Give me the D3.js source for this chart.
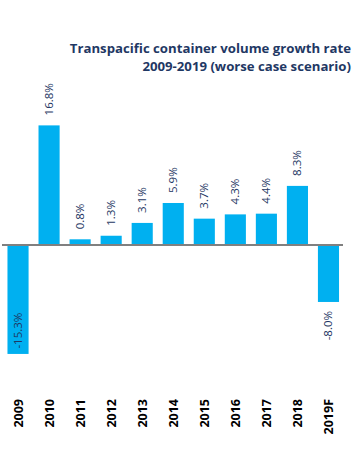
<!DOCTYPE html>
<html>
<head>
<meta charset="utf-8">
<script src="https://cdn.jsdelivr.net/npm/d3@7"></script>
<style>
  body { margin: 0; background: #fff; }
  svg { display: block; }
</style>
</head>
<body>
<script>
var years = ['2009', '2010', '2011', '2012', '2013', '2014', '2015', '2016', '2017', '2018', '2019F'];
var growth = [-15.3, 16.8, 0.8, 1.3, 3.1, 5.9, 3.7, 4.3, 4.4, 8.3, -8.0];
var titleLines = ['Transpacific container volume growth rate', '2009-2019 (worse case scenario)'];

var width = 358, height = 451;
var zeroY = 245, pxPer = 7.12;

var data = years.map(function (y, i) { return { year: y, v: growth[i] }; });

var svg = d3.select('body').append('svg')
    .attr('width', width)
    .attr('height', height);

var x = d3.scaleBand()
    .domain(years)
    .range([2.5, 344])
    .paddingInner(0.32)
    .paddingOuter(0.16);

var y = d3.scaleLinear()
    .domain([-16, 18])
    .range([zeroY + 16 * pxPer, zeroY - 18 * pxPer]);

// title
svg.append('g')
    .selectAll('text')
    .data(titleLines)
    .enter().append('text')
    .attr('x', 351)
    .attr('y', function (d, i) { return 53 + i * 18; })
    .attr('text-anchor', 'end')
    .attr('font-family', 'Open Sans, sans-serif')
    .attr('font-weight', 'bold')
    .attr('font-size', '13.2px')
    .attr('fill', '#1f3864')
    .text(function (d) { return d; });

// bars
svg.append('g')
    .selectAll('rect')
    .data(data)
    .enter().append('rect')
    .attr('x', function (d) { return x(d.year); })
    .attr('width', x.bandwidth())
    .attr('y', function (d) { return y(Math.max(0, d.v)); })
    .attr('height', function (d) { return Math.abs(y(d.v) - y(0)); })
    .attr('fill', '#00b0f0');

// zero line
svg.append('line')
    .attr('x1', 2).attr('x2', 343)
    .attr('y1', y(0)).attr('y2', y(0))
    .attr('stroke', '#808080')
    .attr('stroke-width', 1.8);

// value labels
svg.append('g')
    .selectAll('text')
    .data(data)
    .enter().append('text')
    .attr('transform', function (d) {
        var cx = x(d.year) + x.bandwidth() / 2 + 4;
        var ly = d.v >= 0 ? y(d.v) - 10 : Math.min(y(d.v) + 9, y(-9.5));
        return 'translate(' + cx + ',' + ly + ') rotate(-90)';
    })
    .attr('text-anchor', function (d) { return d.v >= 0 ? 'start' : 'end'; })
    .attr('font-family', 'Open Sans, sans-serif')
    .attr('font-size', '11.5px')
    .attr('fill', '#1f3864')
    .text(function (d) { return d.v.toFixed(1) + '%'; });

// category labels
svg.append('g')
    .selectAll('text')
    .data(years)
    .enter().append('text')
    .attr('transform', function (d) {
        return 'translate(' + (x(d) + x.bandwidth() / 2 + 4.5) + ',399) rotate(-90)';
    })
    .attr('text-anchor', 'end')
    .attr('font-family', 'Open Sans, sans-serif')
    .attr('font-weight', 'bold')
    .attr('font-size', '12.5px')
    .attr('fill', '#000')
    .text(function (d) { return d; });
</script>
</body>
</html>
